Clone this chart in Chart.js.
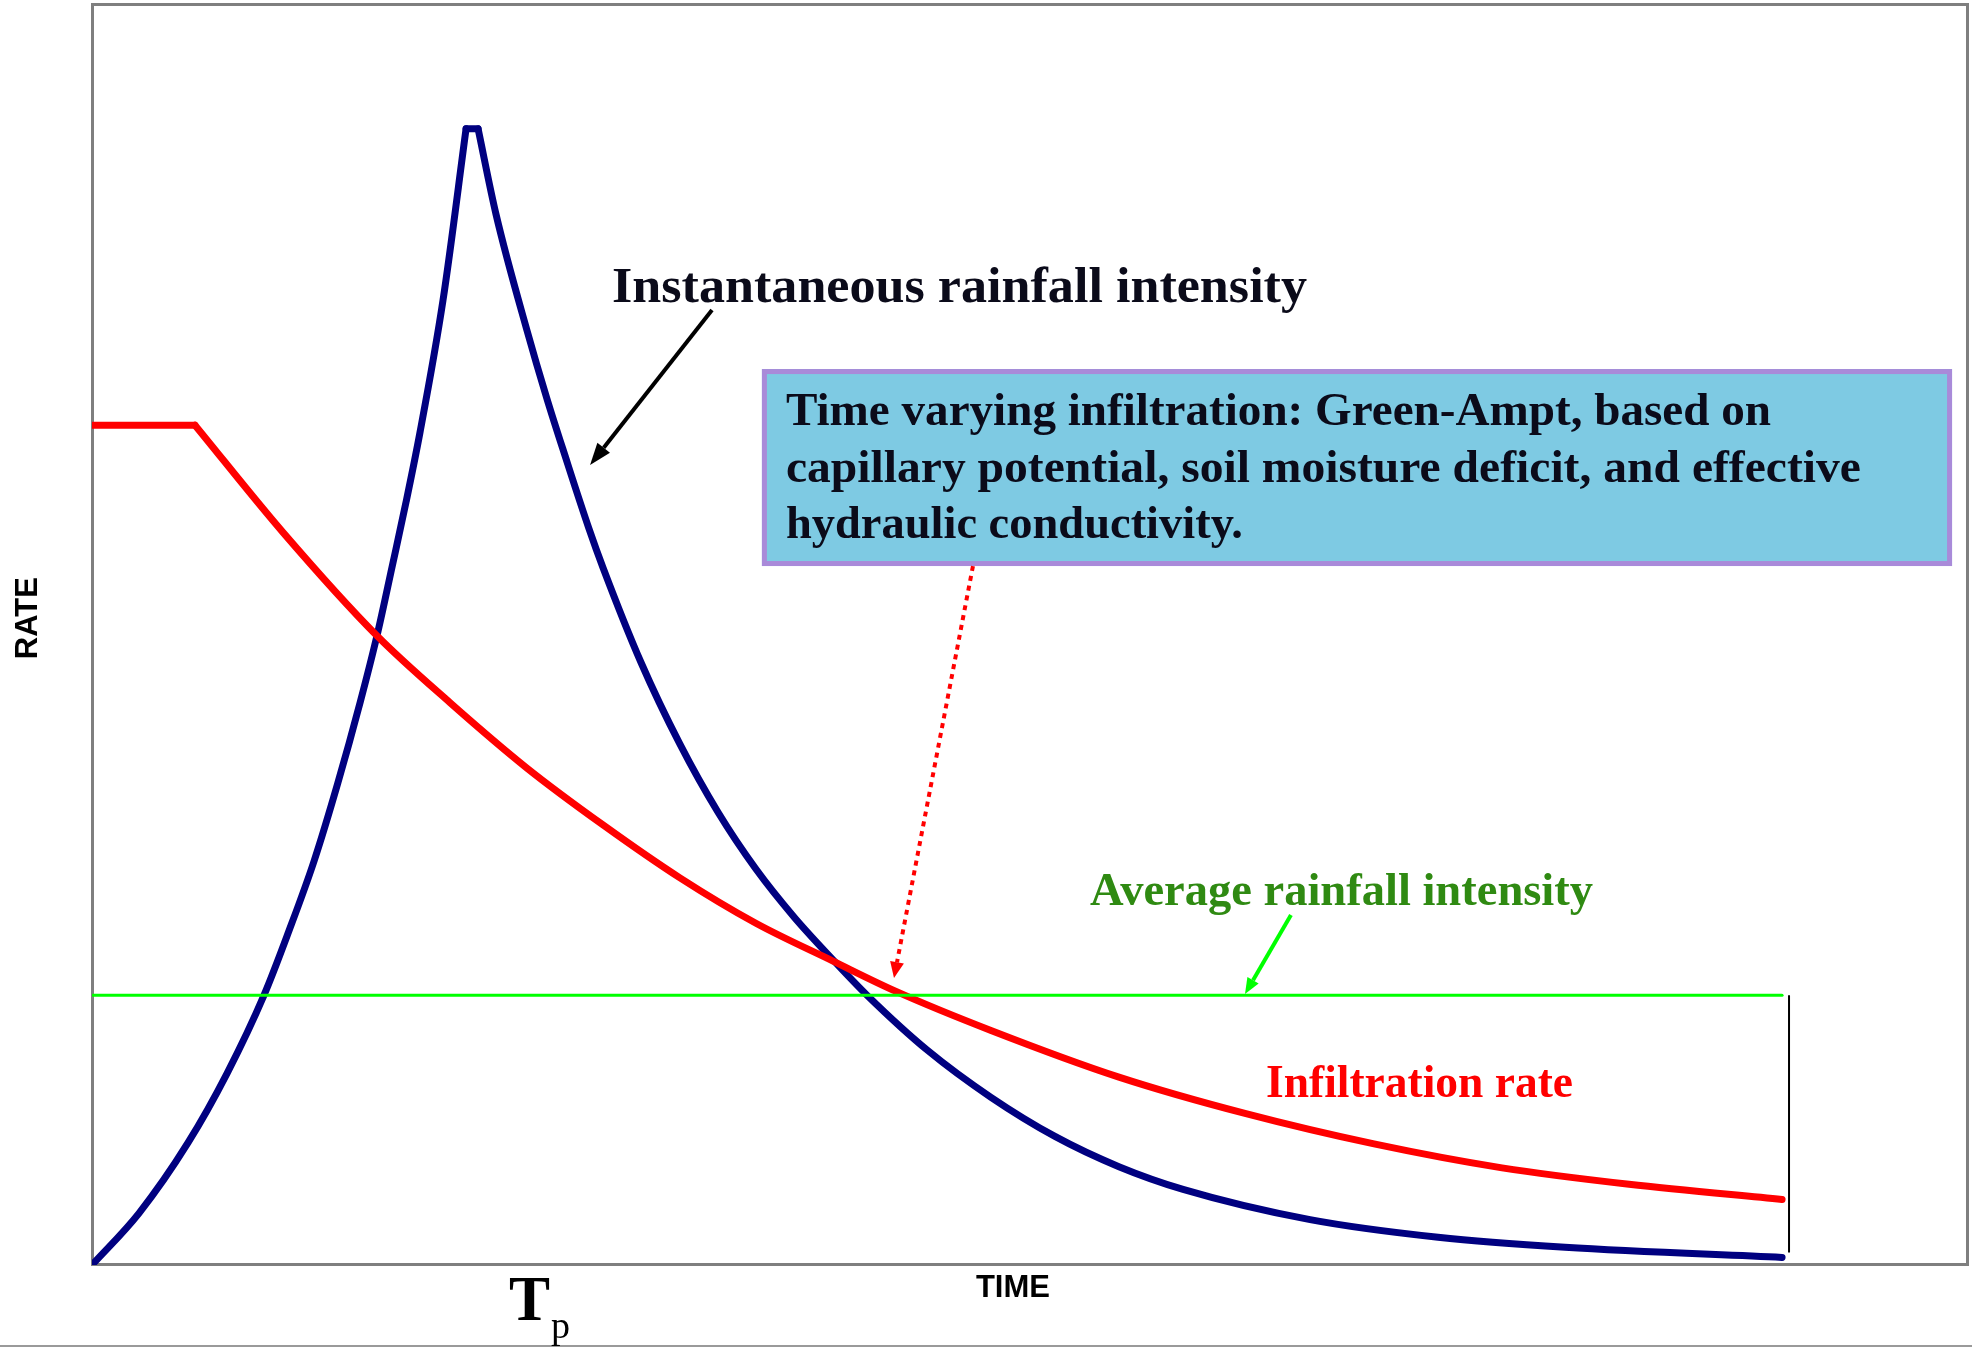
<!DOCTYPE html>
<html>
<head>
<meta charset="utf-8">
<title>Rainfall intensity and infiltration rate</title>
<script src="https://cdn.jsdelivr.net/npm/chart.js@4/dist/chart.umd.min.js"></script>
<style>
  html, body { margin: 0; padding: 0; background: #ffffff; }
  #wrap { width: 1972px; height: 1347px; position: relative; }
</style>
</head>
<body>
<div id="wrap"><canvas id="rateChart"></canvas></div>
<script>
// Time runs 0-100 across the frame, rate 0-100 up the frame (no units on the original)

// Instantaneous rainfall intensity (navy); indices 14-15 are the flat peak
var rainTime = [0, 2.5, 5.12, 7.2, 9.17, 10.5, 11.83, 13.1, 14.29, 15.19, 16.0, 16.74, 17.48, 18.71, 19.94,
                20.58, 21.54, 23.19, 24.25, 25.21, 26.49, 27.24, 29.26, 31.34, 33.37, 35.39, 37.42, 39.5,
                41.31, 44.56, 47.92, 51.33, 54.74, 58.16, 64.93, 71.75, 78.52, 90.09];
var rainIntensity = [0, 4.1, 9.7, 15.2, 21.4, 26.5, 32.0, 38.2, 44.6, 49.9, 55.4, 60.5, 66.0, 76.5, 90.1,
                     90.1, 83.3, 74.1, 68.7, 64.2, 58.4, 55.3, 47.8, 41.3, 35.9, 31.4, 27.6, 24.2,
                     21.4, 17.0, 13.3, 10.2, 7.8, 6.0, 3.6, 2.2, 1.4, 0.6];

// Green-Ampt infiltration rate (red); indices 0-1 are the initial capacity plateau
var infilTime = [0, 5.49, 10.18, 15.19, 19.08, 23.19, 27.24, 31.34, 35.39, 39.5, 42.86, 47.92,
                 54.74, 61.51, 68.34, 75.16, 81.93, 90.09];
var infilRate = [66.6, 66.6, 58.1, 49.9, 44.6, 39.4, 34.9, 30.7, 27.1, 24.1, 21.7, 18.6,
                 14.9, 12.0, 9.6, 7.7, 6.4, 5.2];

// Average rainfall intensity (green) and the closing tick at the end of the storm
var avgTime = [0, 90.09];
var avgIntensity = [21.4, 21.4];
var endTime = [90.46, 90.46];
var endRate = [21.4, 1.0];

function toPoints(xs, ys, from, to) {
    var pts = [];
    for (var i = from; i <= to; i++) pts.push({ x: xs[i], y: ys[i] });
    return pts;
}

var serif = '"Liberation Serif", "DejaVu Serif", serif';
var sans = '"Liberation Sans", Arial, sans-serif';

// labels placed in data units
var notes = [
    { text: 'Instantaneous rainfall intensity', x: 27.72, y: 76.37, size: 50, width: 695, color: '#0b0b1a' },
    { text: 'Time varying infiltration: Green-Ampt, based on', x: 36.99, y: 66.61, size: 46, width: 985, color: '#0b0b1a' },
    { text: 'capillary potential, soil moisture deficit, and effective', x: 36.99, y: 62.09, size: 46, width: 1075, color: '#0b0b1a' },
    { text: 'hydraulic conductivity.', x: 36.99, y: 57.65, size: 46, width: 457, color: '#0b0b1a' },
    { text: 'Average rainfall intensity', x: 53.2, y: 28.55, size: 46, width: 503, color: '#2f8a12' },
    { text: 'Infiltration rate', x: 62.58, y: 13.32, size: 46, width: 307, color: '#ff0000' }
];
var noteBox = { x1: 35.71, y1: 71.05, x2: 99.15, y2: 55.43 };
var arrows = [
    { x1: 33.05, y1: 75.73, x2: 26.55, y2: 63.44, color: '#000000', width: 4, head: 22, spread: 16, dash: [] },
    { x1: 46.96, y1: 55.43, x2: 42.75, y2: 22.76, color: '#ff0000', width: 4, head: 16, spread: 14, dash: [5, 5] },
    { x1: 63.91, y1: 27.76, x2: 61.46, y2: 21.49, color: '#00ff00', width: 4, head: 16, spread: 13, dash: [] }
];

function fitText(ctx, t, x, y, size, width, weight, family) {
    ctx.font = weight + ' ' + size + 'px ' + family;
    var w = ctx.measureText(t).width;
    ctx.save();
    ctx.translate(x, y);
    ctx.scale(width / w, 1);
    ctx.fillText(t, 0, 0);
    ctx.restore();
}

function drawArrow(ctx, x1, y1, x2, y2, a) {
    var ang = Math.atan2(y2 - y1, x2 - x1);
    var bx = x2 - a.head * Math.cos(ang), by = y2 - a.head * Math.sin(ang);
    ctx.strokeStyle = a.color;
    ctx.lineWidth = a.width;
    ctx.setLineDash(a.dash);
    ctx.beginPath();
    ctx.moveTo(x1, y1);
    ctx.lineTo(bx, by);
    ctx.stroke();
    ctx.setLineDash([]);
    ctx.fillStyle = a.color;
    ctx.beginPath();
    ctx.moveTo(x2, y2);
    ctx.lineTo(bx + a.spread / 2 * Math.sin(ang), by - a.spread / 2 * Math.cos(ang));
    ctx.lineTo(bx - a.spread / 2 * Math.sin(ang), by + a.spread / 2 * Math.cos(ang));
    ctx.closePath();
    ctx.fill();
}

var decorations = {
    id: 'decorations',
    beforeDatasetsDraw: function (chart) {
        var a = chart.chartArea, ctx = chart.ctx;
        ctx.save();
        // frame round the plot
        ctx.strokeStyle = '#7f7f7f';
        ctx.lineWidth = 3;
        ctx.strokeRect(a.left + 0.5, a.top + 0.5, a.right - a.left - 1, a.bottom - a.top - 1);
        // slide edge at the bottom
        ctx.strokeStyle = '#9a9a9a';
        ctx.lineWidth = 2;
        ctx.beginPath();
        ctx.moveTo(0, chart.height - 1);
        ctx.lineTo(chart.width, chart.height - 1);
        ctx.stroke();
        ctx.restore();
    },
    afterDatasetsDraw: function (chart) {
        var ctx = chart.ctx, xs = chart.scales.x, ys = chart.scales.y;
        var px = function (v) { return xs.getPixelForValue(v); };
        var py = function (v) { return ys.getPixelForValue(v); };
        ctx.save();

        // note box
        var bl = px(noteBox.x1), bt = py(noteBox.y1), br = px(noteBox.x2), bb = py(noteBox.y2);
        ctx.fillStyle = '#7ecae3';
        ctx.fillRect(bl, bt, br - bl, bb - bt);
        ctx.strokeStyle = '#a98ad9';
        ctx.lineWidth = 5;
        ctx.strokeRect(bl + 2.5, bt + 2.5, br - bl - 5, bb - bt - 5);

        // arrows
        arrows.forEach(function (a) {
            drawArrow(ctx, px(a.x1), py(a.y1), px(a.x2), py(a.y2), a);
        });

        // serif labels
        ctx.textAlign = 'left';
        ctx.textBaseline = 'alphabetic';
        notes.forEach(function (n) {
            ctx.fillStyle = n.color;
            fitText(ctx, n.text, px(n.x), py(n.y), n.size, n.width, 'bold', serif);
        });

        // axis names
        ctx.fillStyle = '#000000';
        ctx.font = 'bold 31px ' + sans;
        ctx.textAlign = 'center';
        ctx.fillText('TIME', px(49.09), py(-2.54));
        ctx.save();
        ctx.translate(px(-3.41), py(51.3));
        ctx.rotate(-Math.PI / 2);
        ctx.textBaseline = 'middle';
        ctx.fillText('RATE', 0, 0);
        ctx.restore();

        // time to ponding, T with subscript p
        ctx.textAlign = 'left';
        ctx.textBaseline = 'alphabetic';
        fitText(ctx, 'T', px(22.23), py(-4.36), 64, 41, 'bold', serif);
        ctx.font = '38px ' + serif;
        ctx.fillText('p', px(24.47), py(-5.79));

        ctx.restore();
    }
};

var ctx = document.getElementById('rateChart').getContext('2d');

var navy = { borderColor: '#000080', borderWidth: 7, borderCapStyle: 'round', borderJoinStyle: 'round', order: 2 };
var red = { borderColor: '#ff0000', borderWidth: 7, borderCapStyle: 'round', borderJoinStyle: 'round', order: 1 };

var lastRain = rainTime.length - 1;
var lastInfil = infilTime.length - 1;

var data = {
    datasets: [
        { label: 'Average rainfall intensity', data: toPoints(avgTime, avgIntensity, 0, 1),
          borderColor: '#00ff00', borderWidth: 3, borderCapStyle: 'round', order: 0 },
        { label: 'End of storm', data: toPoints(endTime, endRate, 0, 1),
          borderColor: '#000000', borderWidth: 2, order: 0 },
        Object.assign({ label: 'Infiltration rate (plateau)', data: toPoints(infilTime, infilRate, 0, 1) }, red),
        Object.assign({ label: 'Infiltration rate', data: toPoints(infilTime, infilRate, 1, lastInfil),
          cubicInterpolationMode: 'monotone' }, red),
        Object.assign({ label: 'Rainfall intensity (rising)', data: toPoints(rainTime, rainIntensity, 0, 14),
          cubicInterpolationMode: 'monotone' }, navy),
        Object.assign({ label: 'Rainfall intensity (peak)', data: toPoints(rainTime, rainIntensity, 14, 15) }, navy),
        Object.assign({ label: 'Rainfall intensity (falling)', data: toPoints(rainTime, rainIntensity, 15, lastRain),
          cubicInterpolationMode: 'monotone' }, navy)
    ]
};

var options = {
    responsive: true,
    maintainAspectRatio: false,
    animation: false,
    layout: { padding: { left: 92, top: 4, right: 4, bottom: 82 } },
    elements: {
        point: { radius: 0, hoverRadius: 0 },
        line: { tension: 0, fill: false }
    },
    scales: {
        x: { type: 'linear', min: 0, max: 100, display: false },
        y: { type: 'linear', min: 0, max: 100, display: false }
    },
    plugins: {
        legend: { display: false },
        tooltip: { enabled: false }
    }
};

var rateChart = new Chart(ctx, {
    type: 'line',
    data: data,
    options: options,
    plugins: [decorations]
});
</script>
</body>
</html>
